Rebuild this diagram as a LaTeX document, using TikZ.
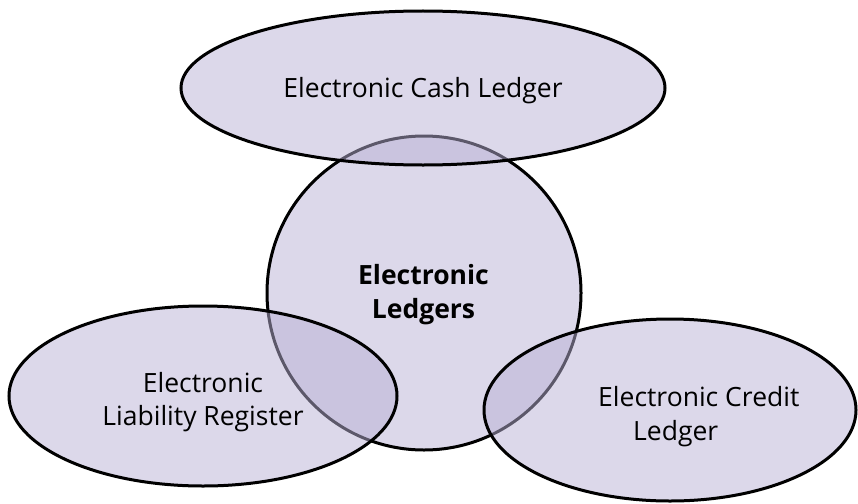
\documentclass[tikz,border=0pt]{standalone}
\usepackage{fontspec}
\setmainfont{Open Sans}
\usetikzlibrary{shapes.geometric}
\definecolor{lavfill}{RGB}{220,216,234}
\definecolor{lavtrans}{RGB}{185,177,213}
\tikzset{
  ring/.style={line width=3pt, draw=black},
  hub/.style={ring, fill=lavfill},
  petal/.style={ring, fill=lavtrans, fill opacity=0.5, draw opacity=1},
  lbl/.style={inner sep=0pt, font=\fontsize{26.5}{34}\selectfont, text=black, text opacity=1},
}
\begin{document}
\begin{tikzpicture}[x=1pt,y=-1pt]
\useasboundingbox (0,0) rectangle (858,503);
% central circle
\draw[hub] (424,293) circle[radius=157];
% surrounding ellipses
\draw[petal] (423,88) ellipse[x radius=242, y radius=77];
\draw[petal] (203,396) ellipse[x radius=194, y radius=90];
\draw[petal] (670,410) ellipse[x radius=186, y radius=91];
% labels
\node[lbl, anchor=base] (cash) at (423,97) {Electronic Cash Ledger};
\node[lbl, anchor=base, align=center, font=\fontsize{26.5}{34}\selectfont\bfseries] (hubt) at (423.5,318) {Electronic\\Ledgers};
\node[lbl, anchor=base, align=center, font=\fontsize{26.5}{33}\selectfont] (liab) at (203,425) {Electronic\\Liability Register};
\node[lbl, anchor=base west, align=left] (cred) at (598,440) {Electronic Credit\\\hspace*{35pt}Ledger};
\end{tikzpicture}
\end{document}
